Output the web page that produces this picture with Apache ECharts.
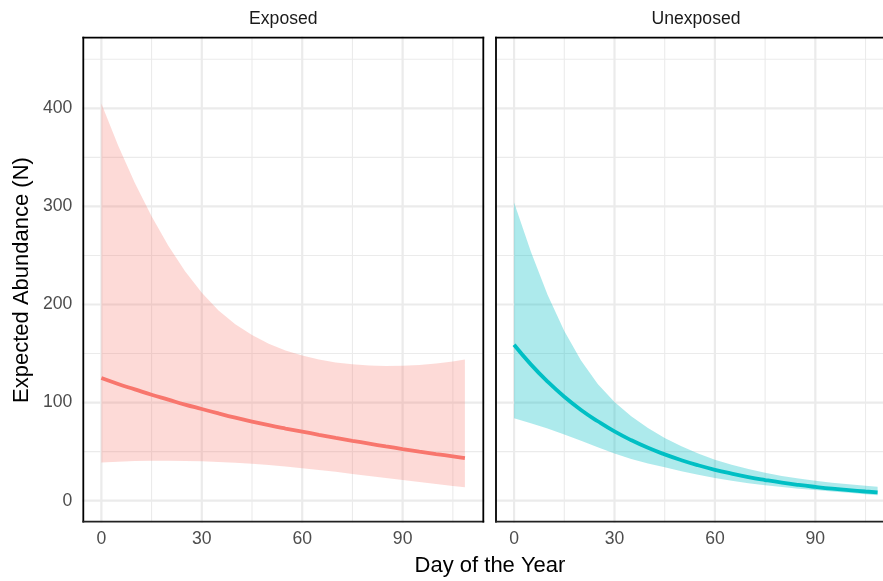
<!DOCTYPE html>
<html>
<head>
<meta charset="utf-8">
<script src="https://cdn.jsdelivr.net/npm/echarts@6/dist/echarts.min.js"></script>
<style>
html,body{margin:0;padding:0;background:#fff;}
#chart{width:883px;height:581px;}
</style>
</head>
<body>
<div id="chart"></div>
<script>
// ---------- data ----------
const panels = ['Exposed', 'Unexposed'];
const days = [0, 5, 10, 15, 20, 25, 30, 35, 40, 45, 50, 55, 60, 65, 70, 75, 80, 85, 90, 95, 100, 105, 108.6];

const exposedMean  = [125, 119, 113.5, 108, 103, 98, 93.5, 89, 84.7, 80.7, 77, 73.6, 70.4, 67.2, 64.1, 61.1, 58.2, 55.4, 52.7, 50.1, 47.6, 45.2, 43.4];
const exposedUpper = [405, 362, 324, 290, 260, 234, 212, 194, 180, 169, 160, 153, 148, 144, 141, 139, 137.8, 137.3, 137.5, 138.3, 139.8, 142, 144];
const exposedLower = [39, 39.8, 40.4, 40.7, 40.8, 40.6, 40.2, 39.5, 38.7, 37.6, 36.3, 34.8, 33.2, 31.4, 29.4, 27.3, 25.3, 23.2, 21.1, 19, 17, 15, 13.6];

const unexposedMean  = [159, 139, 121.5, 106, 92.5, 81, 70.6, 61.7, 53.9, 47.2, 41.3, 36.1, 31.5, 27.6, 24.1, 21.1, 18.4, 16.1, 14.1, 12.3, 10.8, 9.4, 8.5];
const unexposedUpper = [304, 254, 210, 173, 143, 119, 100.5, 86, 74, 64, 55.5, 48, 41.8, 36.6, 32.2, 28.5, 25.3, 22.6, 20.3, 18.4, 16.7, 15.3, 14.3];
const unexposedLower = [84, 79, 73.5, 67.5, 61, 54.5, 48, 42.5, 38, 34, 30, 26.5, 23.2, 20.4, 17.9, 15.7, 13.9, 12.3, 10.9, 9.5, 8.1, 6.6, 5.5];

const xTicks = [0, 30, 60, 90];
const xMinorTicks = [15, 45, 75, 105];
const yTicks = [0, 100, 200, 300, 400];
const yMinorTicks = [50, 150, 250, 350, 450];

const xTitle = 'Day of the Year';
const yTitle = 'Expected Abundance (N)';

// ---------- config ----------
const CANVAS_W = 883;
const X_MIN = -5.4, X_MAX_FULL = 114.1;
const Y_MIN = -21.4, Y_MAX = 472;
const PANEL_W = 400, PANEL_GAP = 12.7, PANEL_LEFT = 83.3, PANEL_TOP = 37.7, PANEL_H = 484;
const FONT = '"Liberation Sans", Arial, Helvetica, sans-serif';
const colors = ['#F8766D', '#00BFC4'];
const bandColors = ['rgba(248,118,109,0.27)', 'rgba(0,191,196,0.32)'];
const seriesData = [
  {mean: exposedMean, upper: exposedUpper, lower: exposedLower},
  {mean: unexposedMean, upper: unexposedUpper, lower: unexposedLower}
];

const chart = echarts.init(document.getElementById('chart'), null, {renderer: 'canvas'});

function gridRender(xMax, drawRight) {
  return function (params, api) {
    if (params.dataIndex !== 0) return null;
    const children = [];
    function add(p1, p2, w, c) {
      children.push({
        type: 'line',
        shape: {x1: p1[0], y1: p1[1], x2: p2[0], y2: p2[1]},
        style: {stroke: c || '#EBEBEB', lineWidth: w, lineCap: 'square'}
      });
    }
    yMinorTicks.forEach(v => add(api.coord([X_MIN, v]), api.coord([xMax, v]), 1.1));
    xMinorTicks.forEach(v => add(api.coord([v, Y_MIN]), api.coord([v, Y_MAX]), 1.1));
    yTicks.forEach(v => add(api.coord([X_MIN, v]), api.coord([xMax, v]), 2.2));
    xTicks.forEach(v => add(api.coord([v, Y_MIN]), api.coord([v, Y_MAX]), 2.2));
    // panel frame
    add(api.coord([X_MIN, Y_MIN]), api.coord([X_MIN, Y_MAX]), 1.8, '#000');
    add(api.coord([X_MIN, Y_MAX]), api.coord([xMax, Y_MAX]), 1.8, '#000');
    add(api.coord([X_MIN, Y_MIN]), api.coord([xMax, Y_MIN]), 1.8, '#222');
    if (drawRight) add(api.coord([xMax, Y_MIN]), api.coord([xMax, Y_MAX]), 1.8, '#000');
    return {type: 'group', children: children};
  };
}

function bandRender(k) {
  return function (params, api) {
    if (params.dataIndex !== 0) return null;
    const d = seriesData[k];
    const pts = [];
    for (let i = 0; i < days.length; i++) pts.push(api.coord([days[i], d.upper[i]]));
    for (let i = days.length - 1; i >= 0; i--) pts.push(api.coord([days[i], d.lower[i]]));
    return {type: 'polygon', shape: {points: pts}, style: {fill: bandColors[k]}};
  };
}

const grids = [], xAxes = [], yAxes = [], series = [];
panels.forEach((name, k) => {
  const left = PANEL_LEFT + k * (PANEL_W + PANEL_GAP);
  // the reference image is cropped at the right edge: keep the same px/day scale
  const visibleW = Math.min(PANEL_W, CANVAS_W - left);
  const xMax = X_MIN + (X_MAX_FULL - X_MIN) * visibleW / PANEL_W;
  const drawRight = visibleW === PANEL_W;
  grids.push({left: left, top: PANEL_TOP, width: visibleW, height: PANEL_H, show: false, containLabel: false});
  xAxes.push({
    gridIndex: k, type: 'value', min: X_MIN, max: xMax,
    axisLine: {show: false}, axisTick: {show: false}, splitLine: {show: false},
    axisLabel: {customValues: xTicks, color: '#4D4D4D', fontSize: 17.6, fontFamily: FONT, margin: 8}
  });
  yAxes.push({
    gridIndex: k, type: 'value', min: Y_MIN, max: Y_MAX,
    axisLine: {show: false}, axisTick: {show: false}, splitLine: {show: false},
    axisLabel: {show: k === 0, customValues: yTicks, color: '#4D4D4D', fontSize: 17.6, fontFamily: FONT, margin: 11}
  });
  series.push({
    type: 'custom', xAxisIndex: k, yAxisIndex: k, z: 1, silent: true, clip: false,
    data: [[0, 0]], encode: {x: 0, y: 1}, renderItem: gridRender(xMax, drawRight)
  });
  series.push({
    type: 'custom', xAxisIndex: k, yAxisIndex: k, z: 2, silent: true, clip: true,
    data: days.map((d, i) => [d, seriesData[k].lower[i], seriesData[k].upper[i]]),
    encode: {x: 0, y: [1, 2]}, renderItem: bandRender(k)
  });
  series.push({
    type: 'line', name: name, xAxisIndex: k, yAxisIndex: k, z: 3,
    data: days.map((d, i) => [d, seriesData[k].mean[i]]),
    smooth: 0.5, showSymbol: false, symbol: 'none',
    lineStyle: {color: colors[k], width: 3.8, cap: 'butt'}, itemStyle: {color: colors[k]}
  });
});

const textStyle = (txt, size, extra) => Object.assign({
  text: txt, fill: '#000', font: size + 'px ' + FONT,
  fontSize: size, fontFamily: FONT,
  textAlign: 'center', textVerticalAlign: 'middle', verticalAlign: 'middle', align: 'center'
}, extra || {});

chart.setOption({
  animation: false,
  backgroundColor: '#fff',
  grid: grids,
  xAxis: xAxes,
  yAxis: yAxes,
  series: series,
  graphic: [
    {type: 'text', x: PANEL_LEFT + PANEL_W / 2, y: 19, style: textStyle(panels[0], 17.6, {fill: '#1A1A1A'})},
    {type: 'text', x: PANEL_LEFT + PANEL_W + PANEL_GAP + PANEL_W / 2, y: 19, style: textStyle(panels[1], 17.6, {fill: '#1A1A1A'})},
    {type: 'text', x: 490, y: 566, style: textStyle(xTitle, 22)},
    {type: 'text', x: 22, y: 280, rotation: Math.PI / 2, style: textStyle(yTitle, 22)}
  ]
});
</script>
</body>
</html>
